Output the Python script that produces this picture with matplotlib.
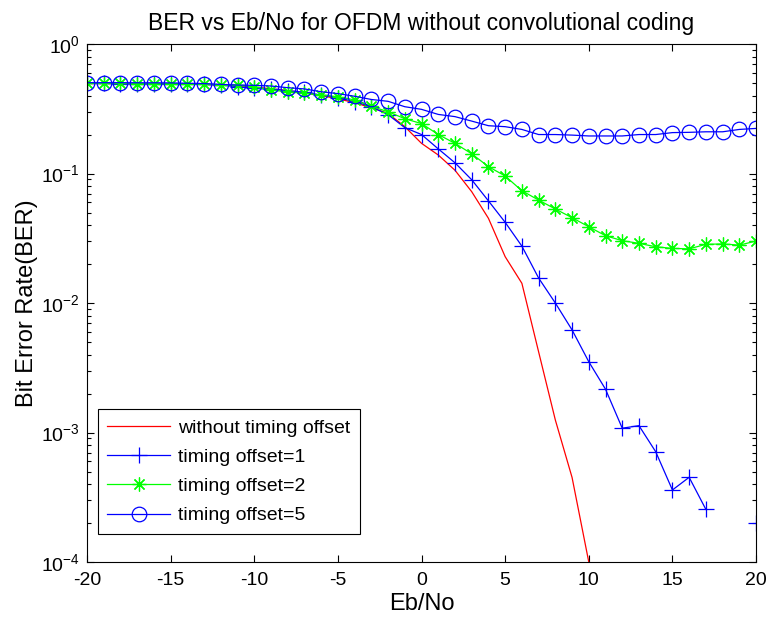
import numpy as np
import matplotlib
matplotlib.use("Agg")
import matplotlib.pyplot as plt

plt.rcParams["font.family"] = ["Liberation Sans", "DejaVu Sans"]
plt.rcParams["mathtext.default"] = "regular"
plt.rcParams["axes.unicode_minus"] = False

# ------------------------------------------------------------------
# Data (BER values, NaN = zero errors / not drawn)
# ------------------------------------------------------------------
ebno = list(range(-20, 21))

ber_no_offset = [0.495, 0.495, 0.494, 0.494, 0.493, 0.492, 0.49, 0.487, 0.482, 0.476,
                 0.465, 0.452, 0.437, 0.42, 0.4, 0.378, 0.352, 0.322, 0.291, 0.23,
                 0.171, 0.139, 0.106, 0.0724, 0.0451, 0.0228, 0.0142, 0.0042, 0.00125,
                 0.00045, 0.0001, np.nan, np.nan, np.nan, np.nan, np.nan, np.nan,
                 np.nan, np.nan, np.nan, np.nan]

ber_offset1 = [0.497, 0.496, 0.495, 0.495, 0.494, 0.493, 0.491, 0.488, 0.483, 0.468,
               0.455, 0.447, 0.436, 0.424, 0.404, 0.385, 0.359, 0.328, 0.285, 0.226,
               0.2, 0.155, 0.121, 0.0895, 0.0615, 0.042, 0.0275, 0.0156, 0.0100,
               0.0062, 0.00352, 0.00216, 0.00108, 0.00113, 0.000711, 0.00036,
               0.000451, 0.000255, np.nan, np.nan, 0.000201]

ber_offset2 = [0.497, 0.497, 0.496, 0.495, 0.494, 0.493, 0.491, 0.489, 0.486, 0.482,
               0.468, 0.441, 0.428, 0.416, 0.404, 0.392, 0.37, 0.33, 0.3, 0.265,
               0.243, 0.2, 0.171, 0.142, 0.113, 0.0957, 0.0736, 0.0624, 0.0532,
               0.0456, 0.0388, 0.0331, 0.0303, 0.0289, 0.0272, 0.0264, 0.0262,
               0.0284, 0.0286, 0.028, 0.0301]

ber_offset5 = [0.503, 0.503, 0.503, 0.502, 0.502, 0.501, 0.498, 0.495, 0.488, 0.482,
               0.48, 0.474, 0.46, 0.45, 0.428, 0.414, 0.395, 0.373, 0.361, 0.328,
               0.313, 0.286, 0.275, 0.254, 0.234, 0.23, 0.219, 0.2, 0.2, 0.198,
               0.195, 0.195, 0.195, 0.2, 0.2, 0.207, 0.208, 0.21, 0.21, 0.219,
               0.223]

labels = ["without timing offset", "timing offset=1",
          "timing offset=2", "timing offset=5"]

# ------------------------------------------------------------------
# Plot
# ------------------------------------------------------------------
fig = plt.figure(figsize=(7.66, 6.2), dpi=100)
ax = fig.add_axes([0.1136, 0.0935, 0.8734, 0.8355])

lw = 0.9
ax.semilogy(ebno, ber_no_offset, color="#FF0000", lw=lw, label=labels[0])
ax.semilogy(ebno, ber_offset1, color="#0000FF", lw=lw, marker="+", ms=11,
            mew=0.9, label=labels[1])
ax.semilogy(ebno, ber_offset2, color="#00FF00", lw=lw, marker=(8, 2, 0), ms=10,
            mew=0.9, label=labels[2])
ax.semilogy(ebno, ber_offset5, color="#0000FF", lw=lw, marker="o", ms=10.5,
            mfc="none", mew=0.9, label=labels[3])

ax.set_xlim(-20, 20)
ax.set_ylim(1e-4, 1)
ax.set_xticks(range(-20, 21, 5))
ax.tick_params(which="both", direction="in", top=True, right=True,
               labelsize=14, width=0.8)
ax.tick_params(which="major", length=5)
ax.tick_params(which="minor", length=3)
ax.tick_params(axis="x", pad=7)
ax.tick_params(axis="y", pad=5)
for s in ax.spines.values():
    s.set_linewidth(0.8)

ax.set_xlabel("Eb/No", fontsize=17, labelpad=3)
ax.set_ylabel("Bit Error Rate(BER)", fontsize=17, labelpad=2)
ax.set_title("BER vs Eb/No for OFDM without convolutional coding", fontsize=16.5, pad=10)

# legend frame sits a little off the lower-left corner, like the original
leg = ax.legend(loc="lower left", bbox_to_anchor=(0.016, 0.054), borderaxespad=0,
                fontsize=14, fancybox=False, framealpha=1, edgecolor="black",
                handlelength=3.2, handletextpad=0.45, labelspacing=0.6,
                borderpad=0.5)
leg.get_frame().set_linewidth(0.8)

fig.savefig("out.png", dpi=100)
